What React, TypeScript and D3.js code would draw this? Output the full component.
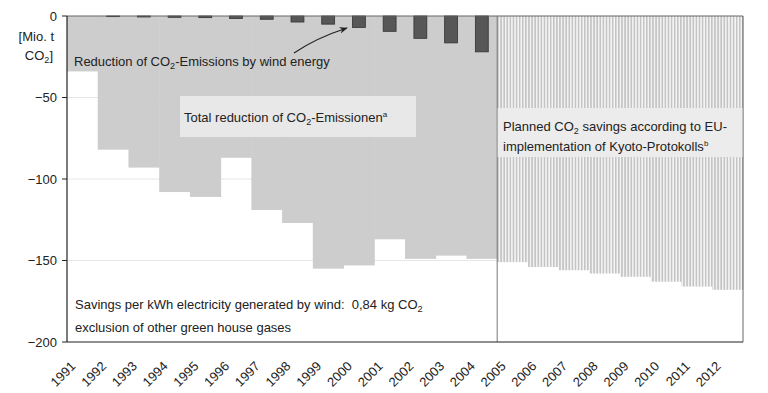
import React from 'react';
import * as d3 from 'd3';

// years on the x axis
const years = [
  '1991', '1992', '1993', '1994', '1995', '1996', '1997', '1998', '1999', '2000', '2001',
  '2002', '2003', '2004', '2005', '2006', '2007', '2008', '2009', '2010', '2011', '2012'
];
const pastYears = years.slice(0, 14);
const plannedYears = years.slice(14);

// total reduction of CO2 emissions (Mio. t), 1991-2004
const totalReduction = [-34, -82, -93, -108, -111, -87, -119, -127, -155, -153, -137, -149, -147, -149];
// reduction by wind energy (Mio. t), 1991-2004
const windReduction = [0, -0.4, -0.6, -0.8, -1, -1.5, -2, -3.7, -5, -7, -9.4, -13.7, -16.5, -22];
// planned savings (EU Kyoto implementation), 2005-2012
const plannedSavings = [-151, -154, -156, -158, -160, -163, -166, -168];

const yTicks = [0, -50, -100, -150, -200];

const W = 768;
const H = 393;
const left = 67;
const right = 743;
const top = 16;
const bottom = 342;
const font = 'Liberation Sans, Arial, Helvetica, sans-serif';
const fs = 13;

const App: React.FC = () => {
  const x = d3.scaleBand<string>().domain(years).range([left, right]).padding(0);
  const y = d3.scaleLinear().domain([-200, 0]).range([bottom, top]);
  const bw = x.bandwidth();
  const divider = x('2005')!;

  // slightly curved arrow line
  const arrowPath = d3.path();
  arrowPath.moveTo(294, 53);
  arrowPath.quadraticCurveTo(316, 38, 347, 28);

  return (
    <div style={{ position: 'absolute', left: 0, top: 0 }}>
      <svg width={W} height={H} style={{ fontFamily: font, display: 'block' }}>
        <defs>
          <pattern id="stripes" width={3.1} height={10} patternUnits="userSpaceOnUse" x={divider}>
            <rect width={3.1} height={10} fill="#f4f4f4" />
            <rect width={1.6} height={10} fill="#c4c4c4" />
          </pattern>
          <marker id="arrow" viewBox="0 0 10 10" refX={9} refY={5} markerWidth={7} markerHeight={7} orient="auto">
            <path d="M0,1 L10,5 L0,9 L3,5 Z" fill="#222" />
          </marker>
        </defs>

        <rect x={0} y={0} width={W} height={H} fill="#fff" />

        {/* grid lines */}
        {yTicks.slice(1, 4).map(t => (
          <line key={t} x1={left} x2={right} y1={y(t)} y2={y(t)} stroke="#e6e6e6" strokeWidth={1} />
        ))}

        {/* total reduction area */}
        {pastYears.map((yr, i) => (
          <rect key={yr} x={x(yr)!} y={y(0)} width={bw + 0.5} height={y(totalReduction[i]) - y(0)} fill="#cdcdcd" />
        ))}

        {/* planned savings, hatched */}
        {plannedYears.map((yr, i) => (
          <rect key={yr} x={x(yr)!} y={y(0)} width={bw + 0.5} height={y(plannedSavings[i]) - y(0)} fill="url(#stripes)" />
        ))}

        {/* wind energy bars */}
        {pastYears.map((yr, i) => {
          const h = y(windReduction[i]) - y(0);
          if (h <= 0) return null;
          const w = bw * 0.42;
          return (
            <rect key={yr} x={x(yr)! + (bw - w) / 2} y={y(0)} width={w} height={h}
              fill="#575757" stroke="#333" strokeWidth={0.8} />
          );
        })}

        {/* frame */}
        <line x1={left} x2={right} y1={top} y2={top} stroke="#666" strokeWidth={1} />
        <line x1={right} x2={right} y1={top} y2={bottom} stroke="#666" strokeWidth={1} />
        <line x1={divider} x2={divider} y1={top} y2={bottom} stroke="#777" strokeWidth={1} />
        <line x1={left} x2={right} y1={bottom} y2={bottom} stroke="#222" strokeWidth={1.2} />
        <line x1={left} x2={left} y1={top} y2={bottom} stroke="#222" strokeWidth={1.2} />

        {/* y ticks */}
        {yTicks.map(t => (
          <g key={t}>
            <line x1={left - 5} x2={left} y1={y(t)} y2={y(t)} stroke="#222" />
            <text x={57} y={y(t) + 4.5} textAnchor="end" fontSize={fs} fill="#222">
              {t === 0 ? '0' : `\u2212${Math.abs(t)}`}
            </text>
          </g>
        ))}

        {/* y axis title */}
        <text x={54} y={41} textAnchor="end" fontSize={fs} fill="#222">[Mio. t</text>
        <text x={53} y={60} textAnchor="end" fontSize={fs} fill="#222">
          CO<tspan fontSize={9} dy={3}>2</tspan><tspan dy={-3}>]</tspan>
        </text>

        {/* x tick labels */}
        {years.map(yr => {
          const cx = x(yr)! + bw / 2 - 6;
          const cy = 367;
          return (
            <text key={yr} x={cx} y={cy} textAnchor="end" fontSize={13} fill="#222"
              transform={`rotate(-45, ${cx}, ${cy})`}>{yr}</text>
          );
        })}

        {/* annotations */}
        <text x={74} y={66} fontSize={fs} fill="#222">
          Reduction of CO<tspan fontSize={9} dy={3}>2</tspan><tspan dy={-3}>-Emissions by wind energy</tspan>
        </text>
        <path d={arrowPath.toString()} fill="none" stroke="#222" strokeWidth={1.2} markerEnd="url(#arrow)" />

        <rect x={180} y={96} width={236} height={41} fill="#e8e8e8" />
        <text x={184} y={122} fontSize={fs} fill="#222">
          Total reduction of CO<tspan fontSize={9} dy={3}>2</tspan><tspan dy={-3}>-Emissionen</tspan>
          <tspan fontSize={8} dy={-5}>a</tspan>
        </text>

        <rect x={divider + 0.5} y={108} width={right - divider - 1} height={49} fill="#ececec" />
        <text x={503} y={131} fontSize={fs} fill="#222">
          Planned CO<tspan fontSize={9} dy={3}>2</tspan><tspan dy={-3}> savings according to EU-</tspan>
        </text>
        <text x={503} y={151} fontSize={fs} fill="#222">
          implementation of Kyoto-Protokolls<tspan fontSize={8} dy={-5}>b</tspan>
        </text>

        <text x={75} y={309} fontSize={fs} fill="#222">
          {'Savings per kWh electricity generated by wind:\u00a0 0,84 kg CO'}<tspan fontSize={9} dy={3}>2</tspan>
        </text>
        <text x={75} y={332} fontSize={fs} fill="#222">exclusion of other green house gases</text>
      </svg>
    </div>
  );
};

export default App;
